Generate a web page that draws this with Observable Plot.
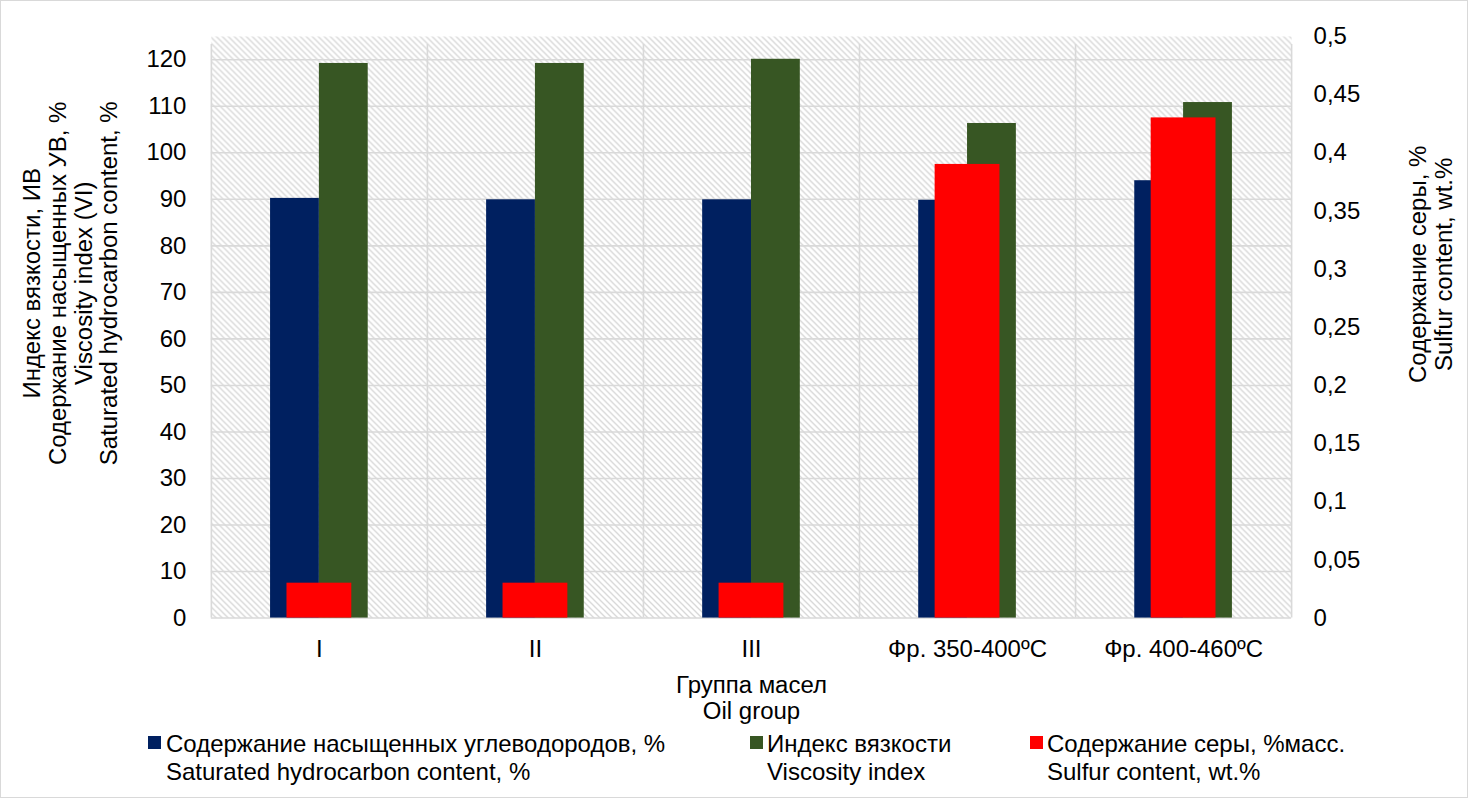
<!DOCTYPE html>
<html>
<head>
<meta charset="utf-8">
<script src="https://cdn.jsdelivr.net/npm/d3@7"></script>
<script src="https://cdn.jsdelivr.net/npm/@observablehq/plot@0.6"></script>
<style>
  html, body { margin: 0; padding: 0; background: #fff; }
  #wrap { position: relative; width: 1468px; height: 798px; box-sizing: border-box; border: 1px solid #d9d9d9; overflow: hidden; font-family: "Liberation Sans", Arial, sans-serif; }
  #chart { position: absolute; left: -1px; top: -1px; }
  .leg { position: absolute; font-size: 24px; line-height: 28px; color: #000; white-space: pre; }
  .sw { position: absolute; width: 13px; height: 13px; }
</style>
</head>
<body>
<div id="wrap">
  <div id="chart"></div>
  <div id="legend"></div>
</div>
<script>
// ---- data ----
const categories = ["I", "II", "III", "Фр. 350-400ºC", "Фр. 400-460ºC"];
const saturated = [90.2, 89.9, 89.9, 89.8, 94.0];          // %
const viscosityIndex = [119.2, 119.2, 120.1, 106.3, 110.8]; // VI
const sulfur = [0.030, 0.030, 0.030, 0.390, 0.430];         // wt.%
const leftTicks = [0, 10, 20, 30, 40, 50, 60, 70, 80, 90, 100, 110, 120];
const rightTicks = [0, 0.05, 0.1, 0.15, 0.2, 0.25, 0.3, 0.35, 0.4, 0.45, 0.5];
const rightTickLabels = ["0", "0,05", "0,1", "0,15", "0,2", "0,25", "0,3", "0,35", "0,4", "0,45", "0,5"];
const seriesNames = [
  "Содержание насыщенных углеводородов, %\nSaturated hydrocarbon content, %",
  "Индекс вязкости\nViscosity index",
  "Содержание серы, %масс.\nSulfur content, wt.%"
];
const colors = ["#002060", "#375623", "#FF0000"];
const leftTitle = "Индекс вязкости, ИВ\nСодержание насыщенных УВ, %\nViscosity index (VI)\nSaturated hydrocarbon content, %";
const rightTitle = "Содержание серы, %\nSulfur content, wt.%";
const xTitle = "Группа масел\nOil group";

// secondary axis: 0..0.5 maps onto primary 0..125
const yMax = 125, y2Max = 0.5, ratio = yMax / y2Max;

const rows = categories.map((c, i) => ({
  i, category: c, saturated: saturated[i], vi: viscosityIndex[i], sulfur: sulfur[i]
}));

const grid = "#d9d9d9";
const half = 0.226, redHalf = 0.15;
const fs = 24;

const chart = Plot.plot({
  width: 1468,
  height: 726,
  marginLeft: 211,
  marginRight: 176,
  marginTop: 36,
  marginBottom: 108,
  style: { fontFamily: "Liberation Sans, Arial, sans-serif", fontSize: fs + "px", color: "#000", background: "transparent" },
  x: { type: "linear", domain: [0, categories.length], axis: null },
  y: { domain: [0, yMax], axis: null },
  marks: [
    Plot.frame({ fill: "url(#hatch)", stroke: "none" }),
    Plot.ruleY(leftTicks, { stroke: grid, strokeWidth: 1.6 }),
    Plot.ruleX(d3.range(categories.length + 1), { y1: 0, y2: yMax, stroke: grid, strokeWidth: 1.6, insetBottom: -8 }),
    Plot.rectY(rows, { x1: d => d.i + 0.5 - half, x2: d => d.i + 0.5, y1: 0, y2: "saturated", fill: colors[0] }),
    Plot.rectY(rows, { x1: d => d.i + 0.5, x2: d => d.i + 0.5 + half, y1: 0, y2: "vi", fill: colors[1] }),
    Plot.rectY(rows, { x1: d => d.i + 0.5 - redHalf, x2: d => d.i + 0.5 + redHalf, y1: 0, y2: d => d.sulfur * ratio, fill: colors[2] }),
    Plot.axisY({ anchor: "left", ticks: leftTicks, tickSize: 0, tickPadding: 25, label: null, fontSize: fs }),
    Plot.axisY({ anchor: "right", ticks: rightTicks.map(v => v * ratio), tickFormat: d => rightTickLabels[rightTicks.findIndex(v => Math.abs(v * ratio - d) < 1e-6)], tickSize: 0, tickPadding: 22, label: null, fontSize: fs }),
    Plot.axisX({ anchor: "bottom", ticks: categories.map((c, i) => i + 0.5), tickFormat: d => categories[Math.round(d - 0.5)], tickSize: 0, tickPadding: 22, label: null, fontSize: fs }),
    Plot.text([xTitle], { frameAnchor: "bottom", textAnchor: "middle", dy: 80, lineAnchor: "middle", lineHeight: 1.08, fontSize: fs }),
    Plot.text([leftTitle], { frameAnchor: "left", textAnchor: "middle", rotate: -90, dx: -141, dy: -44, lineAnchor: "middle", lineHeight: 1.07, fontSize: fs }),
    Plot.text([rightTitle], { frameAnchor: "right", textAnchor: "middle", rotate: -90, dx: 139, dy: -63, lineAnchor: "middle", lineHeight: 1.08, fontSize: fs })
  ]
});

// hatched plot-area pattern
const svg = d3.select(chart);
const defs = svg.insert("defs", ":first-child");
const pat = defs.append("pattern")
  .attr("id", "hatch").attr("patternUnits", "userSpaceOnUse")
  .attr("width", 6).attr("height", 6);
pat.append("rect").attr("width", 6).attr("height", 6).attr("fill", "#ffffff");
pat.append("path").attr("d", "M0,0L6,6M-1,5L1,7M5,-1L7,1")
  .attr("stroke", "#d6d6d6").attr("stroke-width", 1.3);

document.getElementById("chart").appendChild(chart);

// legend (HTML, below the chart drawing)
const legendPos = [
  { sw: 147, text: 165 },
  { sw: 749, text: 766 },
  { sw: 1029, text: 1046 }
];
const leg = document.getElementById("legend");
seriesNames.forEach((name, k) => {
  const s = document.createElement("div");
  s.className = "sw";
  s.style.left = legendPos[k].sw + "px";
  s.style.top = "735px";
  s.style.background = colors[k];
  leg.appendChild(s);
  const t = document.createElement("div");
  t.className = "leg";
  t.style.left = legendPos[k].text + "px";
  t.style.top = "729px";
  t.textContent = name;
  leg.appendChild(t);
});
</script>
</body>
</html>
